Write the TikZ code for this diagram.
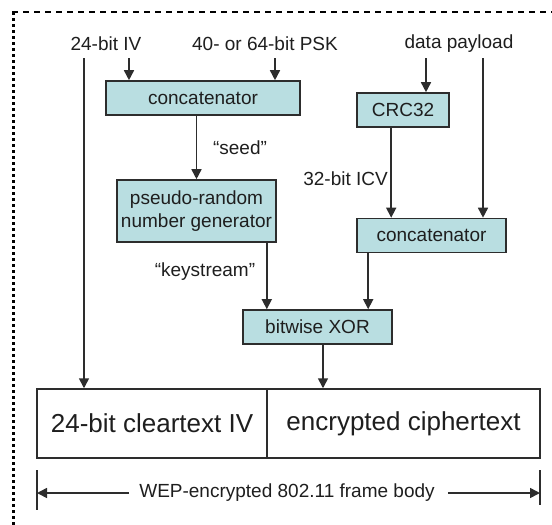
\documentclass[tikz,border=0pt]{standalone}
\usepackage{fontspec}
\setmainfont{Liberation Sans}
\usetikzlibrary{arrows.meta}
\definecolor{boxfill}{RGB}{185,222,225}
\definecolor{ink}{RGB}{30,30,30}
\definecolor{edge}{RGB}{45,45,45}
\tikzset{
  small/.style={font=\fontsize{19}{23}\selectfont, text=ink, inner sep=0pt},
  big/.style={font=\fontsize{26}{30}\selectfont, text=ink},
  procbox/.style={draw=edge, line width=1.6pt, fill=boxfill, small, minimum height=34pt, align=center},
  framebox/.style={draw=edge, line width=1.5pt, big, minimum height=69pt, inner sep=0pt},
  arr/.style={draw=edge, line width=1.6pt, -{Triangle[width=10pt,length=10pt]}},
  plain/.style={draw=edge, line width=1.6pt},
}
\begin{document}
\begin{tikzpicture}[x=1pt,y=-1pt]
  \useasboundingbox (0,0) rectangle (552,525);
  % page border: dashed along the top, dotted down the left
  \draw[line width=2.6pt, dash pattern=on 6pt off 5pt] (12,12) -- (552,12);
  \draw[line width=3pt, dash pattern=on 3pt off 3pt] (13,12) -- (13,525);

  % inputs
  \node[small] (iv)   at (106,44) {24-bit IV};
  \node[small] (psk)  at (265,44) {40- or 64-bit PSK};
  \node[small] (data) at (459,44) {data payload};

  % processing blocks
  \node[procbox, minimum width=194pt] (cat1) at (203,98)    {concatenator};
  \node[procbox, minimum width=159pt, minimum height=62pt] (prng) at (196.5,211) {pseudo-random\\number generator};
  \node[procbox, minimum width=92pt]  (crc)  at (403,110)   {CRC32};
  \node[procbox, minimum width=149pt] (cat2) at (431.5,235.5) {concatenator};
  \node[procbox, minimum width=149pt] (xor)  at (317.5,327) {bitwise XOR};

  % resulting frame body
  \node[framebox, minimum width=230pt] (fl) at (152,423.5) {24-bit cleartext IV};
  \node[framebox, minimum width=273pt] (fr) at (403.5,423.5) {encrypted ciphertext};

  % edge labels
  \node[small] (seed) at (240,148) {``seed''};
  \node[small] (ks)   at (205,272) {``keystream''};
  \node[small, anchor=east] (icv) at (388,179) {32-bit ICV};

  % start points just below the input labels
  \coordinate (ivtop)   at (84,58);
  \coordinate (ivcat)   at (129,58);
  \coordinate (pskcat)  at (275,58);
  \coordinate (datacrc) at (426,58);
  \coordinate (datacat) at (483,58);

  % connectors
  \draw[arr] (ivtop) -- (ivtop |- fl.north);
  \draw[arr] (ivcat) -- (ivcat |- cat1.north);
  \draw[arr] (pskcat) -- (pskcat |- cat1.north);
  \draw[arr] (cat1.south -| prng.north) -- (prng.north);
  \draw[arr] ([xshift=-10pt]prng.south east) -- ([xshift=-10pt]prng.south east |- xor.north);
  \draw[arr] (datacrc) -- (datacrc |- crc.north);
  \draw[arr] (datacat) -- (datacat |- cat2.north);
  \draw[arr] ([xshift=35pt]crc.south west) -- ([xshift=35pt]crc.south west |- cat2.north);
  \draw[arr] ([xshift=12pt]cat2.south west) -- ([xshift=12pt]cat2.south west |- xor.north);
  \draw[arr] ([xshift=5.5pt]xor.south) -- ([xshift=5.5pt]xor.south |- fr.north);

  % dimension line under the frame body
  \node[small] (dim) at (287,493) {WEP-encrypted 802.11 frame body};
  \coordinate (dl) at (37,493);
  \coordinate (dr) at (540,493);
  \draw[plain] ([yshift=23pt]dl) -- ([yshift=-17pt]dl);
  \draw[plain] ([yshift=23pt]dr) -- ([yshift=-12pt]dr);
  \draw[arr] ([xshift=-10pt]dim.west) -- (dl);
  \draw[arr] ([xshift=13pt]dim.east) -- (dr);
\end{tikzpicture}
\end{document}
